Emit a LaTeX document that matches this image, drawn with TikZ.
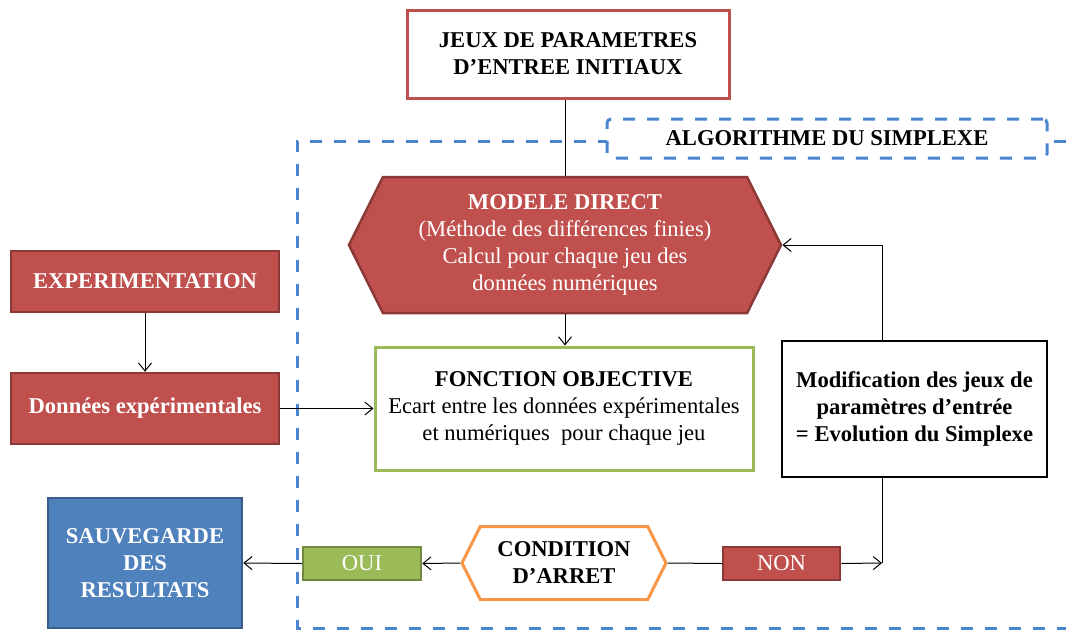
\documentclass[tikz,border=0pt]{standalone}
\usepackage{fontspec}
\setmainfont{Liberation Serif}
\usetikzlibrary{arrows.meta,shapes.symbols,calc}
\definecolor{cred}{HTML}{C0504D}
\definecolor{cdred}{HTML}{8C3836}
\definecolor{cgreen}{HTML}{9BBB59}
\definecolor{cdgreen}{HTML}{71893F}
\definecolor{cblue}{HTML}{4F81BD}
\definecolor{cdblue}{HTML}{385D8A}
\definecolor{corange}{HTML}{F79646}
\definecolor{cdash}{HTML}{4A86CF}
\begin{document}
\begin{tikzpicture}[x=1pt,y=-1pt,
  every node/.style={font=\fontsize{22.6}{27}\selectfont, align=center, inner sep=0pt},
  redfill/.style={rectangle, fill=cred, draw=cdred, line width=2.5pt, text=white},
  greenfill/.style={rectangle, fill=cgreen, draw=cdgreen, line width=2.5pt, text=white},
  bluefill/.style={rectangle, fill=cblue, draw=cdblue, line width=2.5pt, text=white},
  outlinebox/.style={rectangle, fill=white, line width=3pt},
  hexa/.style={signal, signal to=east and west, signal pointer angle=127},
  dashline/.style={draw=cdash, line width=3pt, dash pattern=on 12pt off 12pt},
  conn/.style={draw=black, line width=1pt},
  arr/.style={conn, -{Straight Barb[length=8pt,width=13pt,line width=1pt]}}
]
\useasboundingbox (0,0) rectangle (1066,630);
\clip (0,0) rectangle (1066,630);

% outer dashed frame
\draw[dashline] (1090,141) -- (297,141) -- (297,628) -- (1090,628);

% nodes
\node[outlinebox, draw=cred, minimum width=322, minimum height=88] (top) at (568,54)
  {\textbf{JEUX DE PARAMETRES}\\\textbf{D’ENTREE INITIAUX}};
\node[rectangle, fill=white, dashline, rounded corners=4pt, minimum width=440, minimum height=39] (alg) at (827,138.5)
  {\textbf{ALGORITHME DU SIMPLEXE}};
\node[hexa, fill=cred, draw=cdred, line width=2.5pt, text=white, minimum width=432, minimum height=136] (md) at (565,245)
  {\textbf{MODELE DIRECT}\\(Méthode des différences finies)\\Calcul pour chaque jeu des\\données numériques};
\node[outlinebox, draw=cgreen, minimum width=378, minimum height=123] (fo) at (564,408.5)
  {\textbf{FONCTION OBJECTIVE}\\Ecart entre les données expérimentales\\et numériques~ pour chaque jeu};
\node[rectangle, fill=white, draw=black, line width=1.5pt, minimum width=265, minimum height=136] (mod) at (914.5,409)
  {\textbf{Modification des jeux de}\\\textbf{paramètres d’entrée}\\\textbf{= Evolution du Simplexe}};
\node[redfill, minimum width=268, minimum height=61] (exp) at (145,281.5) {\textbf{EXPERIMENTATION}};
\node[redfill, minimum width=268, minimum height=71] (don) at (145,408.5) {\textbf{Données expérimentales}};
\node[hexa, fill=white, draw=corange, line width=3pt, minimum width=204, minimum height=73] (cond) at (564,563)
  {\textbf{CONDITION}\\\textbf{D’ARRET}};
\node[redfill, minimum width=117, minimum height=33] (non) at (781.5,563.5) {NON};
\node[greenfill, minimum width=118, minimum height=33] (oui) at (362,563.5) {OUI};
\node[bluefill, minimum width=194, minimum height=130] (sauv) at (145,563)
  {\textbf{SAUVEGARDE}\\\textbf{DES}\\\textbf{RESULTATS}};

\coordinate (cr) at (882,563);

% connectors
\draw[conn] (top.south -| md.north) -- (md.north);
\draw[arr] (md.south) -- (md.south |- fo.north);
\draw[arr] (exp.south) -- (don.north);
\draw[arr] (don.east) -- (fo.west);
\draw[arr] (mod.north -| cr) |- (md.east);
\draw[conn] (cr) -- (mod.south -| cr);
\draw[arr] (non.east) -- (cr);
\draw[conn] (cond.east) -- (non.west);
\draw[arr] (cond.west) -- (oui.east);
\draw[arr] (oui.west) -- (sauv.east);
\end{tikzpicture}
\end{document}
